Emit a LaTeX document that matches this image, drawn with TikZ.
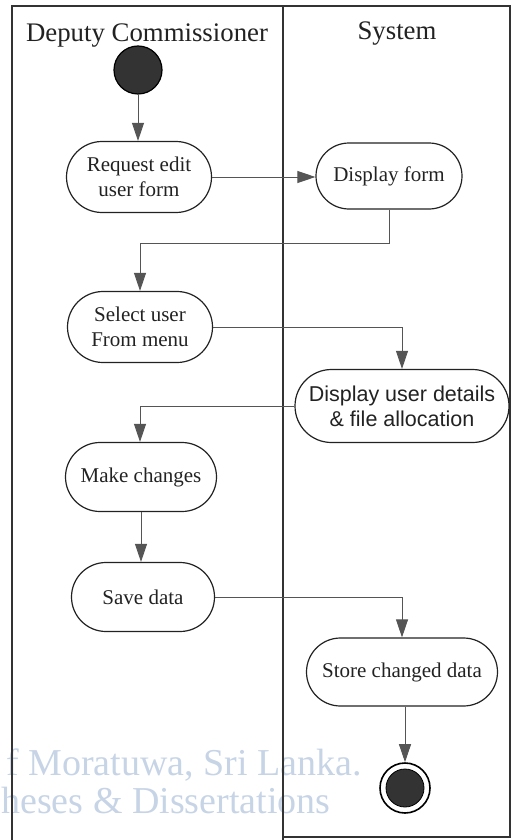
\documentclass[tikz,border=0pt]{standalone}
\usepackage{fontspec}
\setmainfont{Liberation Serif}
\newfontfamily\sansf{Liberation Sans}
\usetikzlibrary{arrows.meta,shapes.misc}

\definecolor{ink}{HTML}{222222}
\definecolor{frameclr}{HTML}{333333}
\definecolor{wire}{HTML}{555555}
\definecolor{stamp}{RGB}{198,212,230}

\tikzset{
  lane/.style={draw=frameclr, line width=1.8pt},
  activity/.style={rounded rectangle, draw=ink, line width=1.2pt, align=center,
    text=ink, inner sep=0pt, font=\fontsize{21}{25}\selectfont},
  flow/.style={draw=wire, line width=0.9pt,
    -{Triangle[length=18pt,width=12pt]}},
  header/.style={text=ink, font=\fontsize{26.8}{30}\selectfont, anchor=base},
  startdot/.style={circle, fill=frameclr, draw=black, line width=1.2pt,
    minimum size=48pt, inner sep=0pt},
  enddot/.style={circle, draw=black, line width=1.6pt, fill=white,
    minimum size=50pt, inner sep=0pt},
  stamptext/.style={text=stamp, font=\fontsize{38}{38}\selectfont, inner sep=0pt}
}

\begin{document}
\begin{tikzpicture}[x=1pt,y=-1pt]
  \useasboundingbox (0,0) rectangle (517,840);
  \clip (0,0) rectangle (517,840);

  % repository stamp behind the chart
  \node[stamptext, anchor=base east] (stampA) at (362,775) {f Moratuwa, Sri Lanka.};
  \node[stamptext, anchor=base west] (stampB) at (1,813) {heses \& Dissertations};

  % swimlanes
  \draw[lane] (12,840) -- (12,6) -- (510,6) -- (510,837) -- (283,837);
  \draw[lane] (283,6) -- (283,840);
  \node[header] (laneA) at (147,42) {Deputy Commissioner};
  \node[header] (laneB) at (397,40) {System};

  % activities
  \node[startdot] (start) at (138,70) {};
  \node[activity, minimum width=145pt, minimum height=71pt] (req) at (139,177) {Request edit\\user form};
  \node[activity, minimum width=146pt, minimum height=66pt] (dform) at (389,176) {Display form};
  \node[activity, minimum width=145pt, minimum height=71pt] (sel) at (140,327) {Select user\\From menu};
  \node[activity, minimum width=214pt, minimum height=73pt, font=\sansf\fontsize{21.5}{25}\selectfont] (dud) at (402,406) {Display user details\\\& file allocation};
  \node[activity, minimum width=151pt, minimum height=69pt] (mk) at (141,477) {Make changes};
  \node[activity, minimum width=143pt, minimum height=69pt] (save) at (143,597) {Save data};
  \node[activity, minimum width=191pt, minimum height=68pt] (store) at (402,672) {Store changed data};
  \node[enddot] (stop) at (405,788) {};
  \node[circle, fill=frameclr, draw=black, line width=0.8pt, minimum size=38pt, inner sep=0pt] (stopcore) at (stop) {};

  % control flow
  \draw[flow] (start.south) -- (start.south |- req.north);
  \draw[flow] (req.east) -- (req.east -| dform.west);
  \draw[flow] (dform.south) |- (140,243) -- (140,243 |- sel.north);
  \draw[flow] (sel.east) -| (402,0 |- dud.north);
  \draw[flow] (dud.west) -| (140,0 |- mk.north);
  \draw[flow] (mk.south -| 141,0) -- (141,0 |- save.north);
  \draw[flow] (save.east) -| (402,0 |- store.north);
  \draw[flow] (store.south -| stop.north) -- (stop.north);
\end{tikzpicture}
\end{document}
